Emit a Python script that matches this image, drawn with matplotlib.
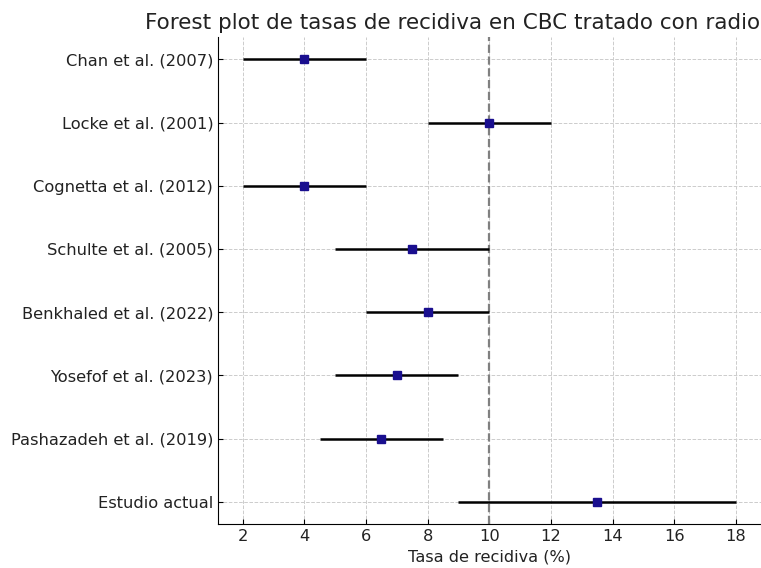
import matplotlib.pyplot as plt

studies = ["Chan et al. (2007)", "Locke et al. (2001)", "Cognetta et al. (2012)",
           "Schulte et al. (2005)", "Benkhaled et al. (2022)", "Yosefof et al. (2023)",
           "Pashazadeh et al. (2019)", "Estudio actual"]
rates = [4, 10, 4, 7.5, 8, 7, 6.5, 13.5]
lower = [2, 8, 2, 5, 6, 5, 4.5, 9]
upper = [6, 12, 6, 10, 10, 9, 8.5, 18]

fig = plt.figure(figsize=(7.61, 5.68), dpi=100)
ax = fig.add_axes([0.2865, 0.0775, 0.713, 0.857])

ypos = list(range(len(studies)))
xerr = [[r - l for r, l in zip(rates, lower)], [u - r for r, u in zip(rates, upper)]]
ax.errorbar(rates, ypos, xerr=xerr, fmt='s', color='#1a0f8f', ecolor='black',
            elinewidth=1.8, markersize=6, capsize=0, zorder=3)
ax.axvline(10, color='grey', linestyle='--', linewidth=1.6, zorder=2)

ax.set_yticks(ypos)
ax.set_yticklabels(studies)
ax.invert_yaxis()
ax.set_xticks([2, 4, 6, 8, 10, 12, 14, 16, 18])
ax.set_xlabel("Tasa de recidiva (%)", fontsize=11.6, color='#222222')
ax.set_title("Forest plot de tasas de recidiva en CBC tratado con radio", fontsize=15.5,
             loc='right', color='#222222')
ax.tick_params(direction='in', labelsize=11.7, labelcolor='#222222')
ax.grid(True, linestyle='--', color='#cccccc', linewidth=0.7)
ax.spines['top'].set_visible(False)
ax.spines['right'].set_visible(False)

fig.savefig("out.png", dpi=100)
